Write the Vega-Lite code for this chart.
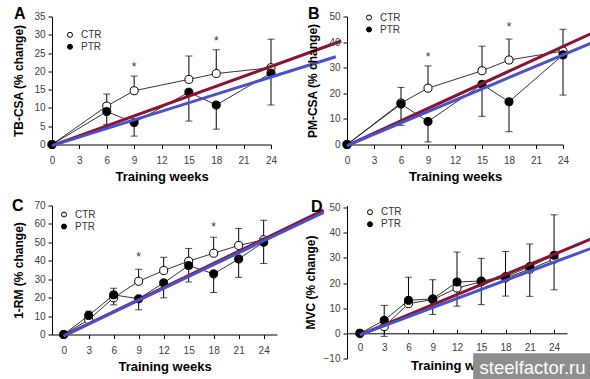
{
  "$schema": "https://vega.github.io/schema/vega-lite/v6.json",
  "padding": {"left": 11, "top": 5.5, "right": 0, "bottom": 0},
  "background": "white",
  "datasets": {
    "A": [
      {"kind": "pt", "group": "CTR", "week": 0, "y": 0},
      {"kind": "pt", "group": "CTR", "week": 6, "y": 10.5},
      {"kind": "pt", "group": "CTR", "week": 9, "y": 14.7},
      {"kind": "pt", "group": "CTR", "week": 15, "y": 17.8},
      {"kind": "pt", "group": "CTR", "week": 18, "y": 19.4},
      {"kind": "pt", "group": "CTR", "week": 24, "y": 21.0},
      {"kind": "pt", "group": "PTR", "week": 0, "y": 0},
      {"kind": "pt", "group": "PTR", "week": 6, "y": 9.0},
      {"kind": "pt", "group": "PTR", "week": 9, "y": 6.0},
      {"kind": "pt", "group": "PTR", "week": 15, "y": 14.3},
      {"kind": "pt", "group": "PTR", "week": 18, "y": 10.8},
      {"kind": "pt", "group": "PTR", "week": 24, "y": 19.5},
      {"kind": "eb", "group": "CTR", "week": 6, "y": 10.5, "y2": 13.8},
      {"kind": "eb", "group": "CTR", "week": 9, "y": 14.7, "y2": 18.7},
      {"kind": "eb", "group": "CTR", "week": 15, "y": 17.8, "y2": 24.2},
      {"kind": "eb", "group": "CTR", "week": 18, "y": 19.4, "y2": 25.9},
      {"kind": "eb", "group": "CTR", "week": 24, "y": 21.0, "y2": 28.8},
      {"kind": "eb", "group": "PTR", "week": 6, "y": 5.5, "y2": 9.0},
      {"kind": "eb", "group": "PTR", "week": 9, "y": 2.3, "y2": 6.0},
      {"kind": "eb", "group": "PTR", "week": 15, "y": 6.4, "y2": 14.3},
      {"kind": "eb", "group": "PTR", "week": 18, "y": 4.2, "y2": 10.8},
      {"kind": "eb", "group": "PTR", "week": 24, "y": 10.8, "y2": 19.5},
      {"kind": "star", "week": 9, "y": 21.9},
      {"kind": "star", "week": 18, "y": 29.2},
      {"kind": "tr", "week": 0, "y": -0.3},
      {"kind": "tr", "week": 31.7, "y": 28.3},
      {"kind": "tb", "week": 0, "y": -0.3},
      {"kind": "tb", "week": 31.1, "y": 24.0}
    ],
    "B": [
      {"kind": "pt", "group": "CTR", "week": 0, "y": 0},
      {"kind": "pt", "group": "CTR", "week": 6, "y": 16.2},
      {"kind": "pt", "group": "CTR", "week": 9, "y": 22.0},
      {"kind": "pt", "group": "CTR", "week": 15, "y": 28.8},
      {"kind": "pt", "group": "CTR", "week": 18, "y": 33.0},
      {"kind": "pt", "group": "CTR", "week": 24, "y": 36.5},
      {"kind": "pt", "group": "PTR", "week": 0, "y": 0},
      {"kind": "pt", "group": "PTR", "week": 6, "y": 15.8},
      {"kind": "pt", "group": "PTR", "week": 9, "y": 9.0},
      {"kind": "pt", "group": "PTR", "week": 15, "y": 23.5},
      {"kind": "pt", "group": "PTR", "week": 18, "y": 16.7},
      {"kind": "pt", "group": "PTR", "week": 24, "y": 35.0},
      {"kind": "eb", "group": "CTR", "week": 6, "y": 16.2, "y2": 22.3},
      {"kind": "eb", "group": "CTR", "week": 9, "y": 22.0, "y2": 30.7},
      {"kind": "eb", "group": "CTR", "week": 15, "y": 28.8, "y2": 38.4},
      {"kind": "eb", "group": "CTR", "week": 18, "y": 33.0, "y2": 41.2},
      {"kind": "eb", "group": "CTR", "week": 24, "y": 36.5, "y2": 45.0},
      {"kind": "eb", "group": "PTR", "week": 6, "y": 7.5, "y2": 15.8},
      {"kind": "eb", "group": "PTR", "week": 9, "y": 1.0, "y2": 9.0},
      {"kind": "eb", "group": "PTR", "week": 15, "y": 11.0, "y2": 23.5},
      {"kind": "eb", "group": "PTR", "week": 18, "y": 5.0, "y2": 16.7},
      {"kind": "eb", "group": "PTR", "week": 24, "y": 19.3, "y2": 35.0},
      {"kind": "star", "week": 9, "y": 35.4},
      {"kind": "star", "week": 18, "y": 46.9},
      {"kind": "tr", "week": 0, "y": -0.4},
      {"kind": "tr", "week": 27.1, "y": 43.3},
      {"kind": "tb", "week": 0, "y": -0.4},
      {"kind": "tb", "week": 27.1, "y": 39.6}
    ],
    "C": [
      {"kind": "pt", "group": "CTR", "week": 0, "y": 0},
      {"kind": "pt", "group": "CTR", "week": 3, "y": 8.0},
      {"kind": "pt", "group": "CTR", "week": 6, "y": 19.9},
      {"kind": "pt", "group": "CTR", "week": 9, "y": 28.9},
      {"kind": "pt", "group": "CTR", "week": 12, "y": 34.7},
      {"kind": "pt", "group": "CTR", "week": 15, "y": 39.8},
      {"kind": "pt", "group": "CTR", "week": 18, "y": 44.1},
      {"kind": "pt", "group": "CTR", "week": 21, "y": 48.3},
      {"kind": "pt", "group": "CTR", "week": 24, "y": 51.4},
      {"kind": "pt", "group": "PTR", "week": 0, "y": 0},
      {"kind": "pt", "group": "PTR", "week": 3, "y": 10.3},
      {"kind": "pt", "group": "PTR", "week": 6, "y": 21.5},
      {"kind": "pt", "group": "PTR", "week": 9, "y": 19.4},
      {"kind": "pt", "group": "PTR", "week": 12, "y": 28.0},
      {"kind": "pt", "group": "PTR", "week": 15, "y": 37.4},
      {"kind": "pt", "group": "PTR", "week": 18, "y": 32.9},
      {"kind": "pt", "group": "PTR", "week": 21, "y": 41.0},
      {"kind": "pt", "group": "PTR", "week": 24, "y": 50.1},
      {"kind": "eb", "group": "CTR", "week": 6, "y": 16.1, "y2": 19.9},
      {"kind": "eb", "group": "CTR", "week": 9, "y": 28.9, "y2": 35.4},
      {"kind": "eb", "group": "CTR", "week": 12, "y": 34.7, "y2": 41.9},
      {"kind": "eb", "group": "CTR", "week": 15, "y": 39.8, "y2": 46.7},
      {"kind": "eb", "group": "CTR", "week": 18, "y": 44.1, "y2": 52.8},
      {"kind": "eb", "group": "CTR", "week": 21, "y": 48.3, "y2": 57.5},
      {"kind": "eb", "group": "CTR", "week": 24, "y": 51.4, "y2": 62.0},
      {"kind": "eb", "group": "PTR", "week": 3, "y": 10.3, "y2": 12.7},
      {"kind": "eb", "group": "PTR", "week": 6, "y": 21.5, "y2": 25.1},
      {"kind": "eb", "group": "PTR", "week": 9, "y": 13.4, "y2": 19.4},
      {"kind": "eb", "group": "PTR", "week": 12, "y": 19.9, "y2": 28.0},
      {"kind": "eb", "group": "PTR", "week": 15, "y": 28.5, "y2": 37.4},
      {"kind": "eb", "group": "PTR", "week": 18, "y": 22.8, "y2": 32.9},
      {"kind": "eb", "group": "PTR", "week": 21, "y": 31.0, "y2": 41.0},
      {"kind": "eb", "group": "PTR", "week": 24, "y": 38.5, "y2": 50.1},
      {"kind": "star", "week": 9, "y": 43.8},
      {"kind": "star", "week": 18, "y": 60.0},
      {"kind": "tr", "week": 0, "y": -0.8},
      {"kind": "tr", "week": 31.2, "y": 67.5},
      {"kind": "tb", "week": 0, "y": -0.8},
      {"kind": "tb", "week": 31.2, "y": 66.3}
    ],
    "D": [
      {"kind": "pt", "group": "CTR", "week": 0, "y": 0},
      {"kind": "pt", "group": "CTR", "week": 3, "y": 2.7},
      {"kind": "pt", "group": "CTR", "week": 6, "y": 11.8},
      {"kind": "pt", "group": "CTR", "week": 9, "y": 13.4},
      {"kind": "pt", "group": "CTR", "week": 12, "y": 18.0},
      {"kind": "pt", "group": "CTR", "week": 15, "y": 20.5},
      {"kind": "pt", "group": "CTR", "week": 18, "y": 22.0},
      {"kind": "pt", "group": "CTR", "week": 21, "y": 25.5},
      {"kind": "pt", "group": "CTR", "week": 24, "y": 29.5},
      {"kind": "pt", "group": "PTR", "week": 0, "y": 0},
      {"kind": "pt", "group": "PTR", "week": 3, "y": 5.2},
      {"kind": "pt", "group": "PTR", "week": 6, "y": 13.1},
      {"kind": "pt", "group": "PTR", "week": 9, "y": 13.7},
      {"kind": "pt", "group": "PTR", "week": 12, "y": 20.4},
      {"kind": "pt", "group": "PTR", "week": 15, "y": 20.8},
      {"kind": "pt", "group": "PTR", "week": 18, "y": 22.5},
      {"kind": "pt", "group": "PTR", "week": 21, "y": 26.5},
      {"kind": "pt", "group": "PTR", "week": 24, "y": 31.0},
      {"kind": "eb", "group": "CTR", "week": 3, "y": -1.2, "y2": 2.7},
      {"kind": "eb", "group": "CTR", "week": 9, "y": 7.5, "y2": 13.4},
      {"kind": "eb", "group": "CTR", "week": 12, "y": 10.8, "y2": 18.0},
      {"kind": "eb", "group": "CTR", "week": 15, "y": 11.4, "y2": 20.5},
      {"kind": "eb", "group": "CTR", "week": 18, "y": 14.8, "y2": 22.0},
      {"kind": "eb", "group": "CTR", "week": 21, "y": 14.7, "y2": 25.5},
      {"kind": "eb", "group": "CTR", "week": 24, "y": 17.3, "y2": 29.5},
      {"kind": "eb", "group": "PTR", "week": 3, "y": 5.2, "y2": 11.1},
      {"kind": "eb", "group": "PTR", "week": 6, "y": 13.1, "y2": 22.3},
      {"kind": "eb", "group": "PTR", "week": 9, "y": 13.7, "y2": 21.3},
      {"kind": "eb", "group": "PTR", "week": 12, "y": 20.4, "y2": 32.3},
      {"kind": "eb", "group": "PTR", "week": 15, "y": 20.8, "y2": 29.8},
      {"kind": "eb", "group": "PTR", "week": 18, "y": 22.5, "y2": 32.5},
      {"kind": "eb", "group": "PTR", "week": 21, "y": 26.5, "y2": 35.5},
      {"kind": "eb", "group": "PTR", "week": 24, "y": 31.0, "y2": 47.1},
      {"kind": "tr", "week": 0, "y": -0.6},
      {"kind": "tr", "week": 28.6, "y": 37.5},
      {"kind": "tb", "week": 0, "y": -0.6},
      {"kind": "tb", "week": 28.6, "y": 33.8}
    ]
  },
  "concat": [
    {
      "width": 219, "height": 128,
      "data": {"name": "A"},
      "layer": [
        {
          "encoding": {
            "x": {"field": "week", "type": "quantitative", "scale": {"domain": [0, 24], "nice": false, "zero": false}, "axis": {"values": [0, 3, 6, 9, 12, 15, 18, 21, 24], "title": "Training weeks"}},
            "y": {"field": "y", "type": "quantitative", "scale": {"domain": [0, 35], "nice": false, "zero": false}, "axis": {"values": [0, 5, 10, 15, 20, 25, 30, 35], "title": "TB-CSA (% change)", "titlePadding": 8}}
          },
          "layer": [
            {"transform": [{"filter": "datum.kind === 'eb'"}], "mark": {"type": "errorbar", "ticks": true, "size": 7, "thickness": 1, "color": "black"}, "encoding": {"y2": {"field": "y2"}}},
            {"transform": [{"filter": "datum.kind === 'pt'"}], "mark": {"type": "line", "color": "black", "strokeWidth": 0.8}, "encoding": {"detail": {"field": "group"}}},
            {"transform": [{"filter": "datum.kind === 'pt'"}], "mark": {"type": "point", "shape": "circle", "filled": true, "stroke": "black", "strokeWidth": 1, "size": 65, "opacity": 1},
             "encoding": {"fill": {"field": "group", "type": "nominal", "scale": {"domain": ["CTR", "PTR"], "range": ["white", "black"]}, "legend": {"orient": "none", "legendX": 13, "legendY": 13.3, "title": null}}}},
            {"transform": [{"filter": "datum.kind === 'star'"}], "mark": {"type": "text", "text": "*", "fontSize": 12, "baseline": "middle", "dy": 3, "color": "#333333"}},
            {"transform": [{"filter": "datum.kind === 'tr'"}], "mark": {"type": "line", "color": "#8a1232", "strokeWidth": 3, "clip": false}},
            {"transform": [{"filter": "datum.kind === 'tb'"}], "mark": {"type": "line", "color": "#4a50c8", "strokeWidth": 3, "clip": false}}
          ]
        },
        {"transform": [{"aggregate": [{"op": "count", "as": "n"}]}], "mark": {"type": "text", "text": "A", "fontSize": 16, "fontWeight": "bold", "font": "Liberation Sans", "align": "left", "baseline": "alphabetic", "color": "black", "clip": false},
         "encoding": {
           "x": {"datum": -4.16, "type": "quantitative", "axis": {"values": [0, 3, 6, 9, 12, 15, 18, 21, 24], "title": "Training weeks"}},
           "y": {"datum": 34.2, "type": "quantitative", "axis": {"values": [0, 5, 10, 15, 20, 25, 30, 35], "title": "TB-CSA (% change)", "titlePadding": 8}}}}
      ]
    },
    {
      "width": 216, "height": 128,
      "data": {"name": "B"},
      "layer": [
        {
          "encoding": {
            "x": {"field": "week", "type": "quantitative", "scale": {"domain": [0, 24], "nice": false, "zero": false}, "axis": {"values": [0, 3, 6, 9, 12, 15, 18, 21, 24], "title": "Training weeks"}},
            "y": {"field": "y", "type": "quantitative", "scale": {"domain": [0, 50], "nice": false, "zero": false}, "axis": {"values": [0, 10, 20, 30, 40, 50], "title": "PM-CSA (% change)", "titlePadding": 9}}
          },
          "layer": [
            {"transform": [{"filter": "datum.kind === 'eb'"}], "mark": {"type": "errorbar", "ticks": true, "size": 7, "thickness": 1, "color": "black"}, "encoding": {"y2": {"field": "y2"}}},
            {"transform": [{"filter": "datum.kind === 'pt'"}], "mark": {"type": "line", "color": "black", "strokeWidth": 0.8}, "encoding": {"detail": {"field": "group"}}},
            {"transform": [{"filter": "datum.kind === 'pt'"}], "mark": {"type": "point", "shape": "circle", "filled": true, "stroke": "black", "strokeWidth": 1, "size": 65, "opacity": 1},
             "encoding": {"fill": {"field": "group", "type": "nominal", "scale": {"domain": ["CTR", "PTR"], "range": ["white", "black"]}, "legend": {"orient": "none", "legendX": 17, "legendY": -4, "title": null}}}},
            {"transform": [{"filter": "datum.kind === 'star'"}], "mark": {"type": "text", "text": "*", "fontSize": 12, "baseline": "middle", "dy": 3, "color": "#333333"}},
            {"transform": [{"filter": "datum.kind === 'tr'"}], "mark": {"type": "line", "color": "#8a1232", "strokeWidth": 3, "clip": false}},
            {"transform": [{"filter": "datum.kind === 'tb'"}], "mark": {"type": "line", "color": "#4a50c8", "strokeWidth": 3, "clip": false}}
          ]
        },
        {"transform": [{"aggregate": [{"op": "count", "as": "n"}]}], "mark": {"type": "text", "text": "B", "fontSize": 16, "fontWeight": "bold", "font": "Liberation Sans", "align": "left", "baseline": "alphabetic", "color": "black", "clip": false},
         "encoding": {
           "x": {"datum": -4.33, "type": "quantitative", "axis": {"values": [0, 3, 6, 9, 12, 15, 18, 21, 24], "title": "Training weeks"}},
           "y": {"datum": 49.0, "type": "quantitative", "axis": {"values": [0, 10, 20, 30, 40, 50], "title": "PM-CSA (% change)", "titlePadding": 9}}}}
      ]
    },
    {
      "width": 225, "height": 129,
      "data": {"name": "C"},
      "layer": [
        {
          "encoding": {
            "x": {"field": "week", "type": "quantitative", "scale": {"domain": [-1.4, 25.6], "nice": false, "zero": false}, "axis": {"values": [0, 3, 6, 9, 12, 15, 18, 21, 24], "title": "Training weeks"}},
            "y": {"field": "y", "type": "quantitative", "scale": {"domain": [0, 70], "nice": false, "zero": false}, "axis": {"values": [0, 10, 20, 30, 40, 50, 60, 70], "title": "1-RM (% change)", "titlePadding": 8}}
          },
          "layer": [
            {"transform": [{"filter": "datum.kind === 'eb'"}], "mark": {"type": "errorbar", "ticks": true, "size": 7, "thickness": 1, "color": "black"}, "encoding": {"y2": {"field": "y2"}}},
            {"transform": [{"filter": "datum.kind === 'pt'"}], "mark": {"type": "line", "color": "black", "strokeWidth": 0.8}, "encoding": {"detail": {"field": "group"}}},
            {"transform": [{"filter": "datum.kind === 'pt'"}], "mark": {"type": "point", "shape": "circle", "filled": true, "stroke": "black", "strokeWidth": 1, "size": 65, "opacity": 1},
             "encoding": {"fill": {"field": "group", "type": "nominal", "scale": {"domain": ["CTR", "PTR"], "range": ["white", "black"]}, "legend": {"orient": "none", "legendX": 7, "legendY": 4, "title": null}}}},
            {"transform": [{"filter": "datum.kind === 'star'"}], "mark": {"type": "text", "text": "*", "fontSize": 12, "baseline": "middle", "dy": 3, "color": "#333333"}},
            {"transform": [{"filter": "datum.kind === 'tr'"}], "mark": {"type": "line", "color": "#8a1232", "strokeWidth": 3, "clip": false}},
            {"transform": [{"filter": "datum.kind === 'tb'"}], "mark": {"type": "line", "color": "#4a50c8", "strokeWidth": 3, "clip": false}}
          ]
        },
        {"transform": [{"aggregate": [{"op": "count", "as": "n"}]}], "mark": {"type": "text", "text": "C", "fontSize": 16, "fontWeight": "bold", "font": "Liberation Sans", "align": "left", "baseline": "alphabetic", "color": "black", "clip": false},
         "encoding": {
           "x": {"datum": -6.2, "type": "quantitative", "axis": {"values": [0, 3, 6, 9, 12, 15, 18, 21, 24], "title": "Training weeks"}},
           "y": {"datum": 67.0, "type": "quantitative", "axis": {"values": [0, 10, 20, 30, 40, 50, 60, 70], "title": "1-RM (% change)", "titlePadding": 8}}}}
      ]
    },
    {
      "width": 220, "height": 153,
      "data": {"name": "D"},
      "layer": [
        {
          "encoding": {
            "x": {"field": "week", "type": "quantitative", "scale": {"domain": [-1.6, 25.6], "nice": false, "zero": false}, "axis": {"values": [0, 3, 6, 9, 12, 15, 18, 21, 24], "title": "Training weeks", "offset": -25.2, "tickSize": -4, "labelPadding": 12.7, "titlePadding": 7}},
            "y": {"field": "y", "type": "quantitative", "scale": {"domain": [-10, 50.8], "nice": false, "zero": false}, "axis": {"values": [-10, 0, 10, 20, 30, 40, 50], "title": "MVC (% change)", "titlePadding": 5.6}}
          },
          "layer": [
            {"transform": [{"filter": "datum.kind === 'eb'"}], "mark": {"type": "errorbar", "ticks": true, "size": 7, "thickness": 1, "color": "black"}, "encoding": {"y2": {"field": "y2"}}},
            {"transform": [{"filter": "datum.kind === 'pt'"}], "mark": {"type": "line", "color": "black", "strokeWidth": 0.8}, "encoding": {"detail": {"field": "group"}}},
            {"transform": [{"filter": "datum.kind === 'pt'"}], "mark": {"type": "point", "shape": "circle", "filled": true, "stroke": "black", "strokeWidth": 1, "size": 65, "opacity": 1},
             "encoding": {"fill": {"field": "group", "type": "nominal", "scale": {"domain": ["CTR", "PTR"], "range": ["white", "black"]}, "legend": {"orient": "none", "legendX": 18, "legendY": 1.7, "title": null}}}},
            {"transform": [{"filter": "datum.kind === 'tr'"}], "mark": {"type": "line", "color": "#8a1232", "strokeWidth": 3, "clip": false}},
            {"transform": [{"filter": "datum.kind === 'tb'"}], "mark": {"type": "line", "color": "#4a50c8", "strokeWidth": 3, "clip": false}}
          ]
        },
        {"transform": [{"aggregate": [{"op": "count", "as": "n"}]}], "mark": {"type": "text", "text": "D", "fontSize": 16, "fontWeight": "bold", "font": "Liberation Sans", "align": "left", "baseline": "alphabetic", "color": "black", "clip": false},
         "encoding": {
           "x": {"datum": -6.05, "type": "quantitative", "axis": {"values": [0, 3, 6, 9, 12, 15, 18, 21, 24], "title": "Training weeks", "offset": -25.2, "tickSize": -4, "labelPadding": 12.7, "titlePadding": 7}},
           "y": {"datum": 48.2, "type": "quantitative", "axis": {"values": [-10, 0, 10, 20, 30, 40, 50], "title": "MVC (% change)", "titlePadding": 5.6}}}},
        {"transform": [{"aggregate": [{"op": "count", "as": "n"}]}], "mark": {"type": "rect", "color": "#8e8e8e", "clip": false},
         "encoding": {
           "x": {"datum": 14.0, "type": "quantitative", "axis": {"values": [0, 3, 6, 9, 12, 15, 18, 21, 24], "title": "Training weeks", "offset": -25.2, "tickSize": -4, "labelPadding": 12.7, "titlePadding": 7}},
           "x2": {"datum": 30},
           "y": {"datum": -7.9, "type": "quantitative", "axis": {"values": [-10, 0, 10, 20, 30, 40, 50], "title": "MVC (% change)", "titlePadding": 5.6}},
           "y2": {"datum": -19.5}}},
        {"transform": [{"aggregate": [{"op": "count", "as": "n"}]}], "mark": {"type": "text", "text": "steelfactor.ru", "fontSize": 18.5, "font": "Liberation Sans", "align": "center", "baseline": "alphabetic", "color": "white", "clip": false},
         "encoding": {
           "x": {"datum": 21.34, "type": "quantitative", "axis": {"values": [0, 3, 6, 9, 12, 15, 18, 21, 24], "title": "Training weeks", "offset": -25.2, "tickSize": -4, "labelPadding": 12.7, "titlePadding": 7}},
           "y": {"datum": -16.0, "type": "quantitative", "axis": {"values": [-10, 0, 10, 20, 30, 40, 50], "title": "MVC (% change)", "titlePadding": 5.6}}}}
      ]
    }
  ],
  "columns": 2,
  "spacing": {"row": 61, "column": 70},
  "bounds": "flush",
  "align": "each",
  "resolve": {"scale": {"x": "independent", "y": "independent", "fill": "independent"}, "legend": {"fill": "independent"}},
  "config": {
    "view": {"stroke": null},
    "font": "Liberation Sans Narrow, Liberation Sans, Arial, sans-serif",
    "axis": {"grid": false, "domainColor": "black", "domainWidth": 1, "tickColor": "black", "tickWidth": 1, "tickSize": 4,
             "labelFont": "Liberation Sans Narrow, Liberation Sans, Arial, sans-serif", "labelFontSize": 10, "labelColor": "#404040",
             "labelFlush": false, "labelOverlap": false,
             "titleFont": "Liberation Sans Narrow, Liberation Sans, Arial, sans-serif", "titleFontWeight": "bold", "titleColor": "black"},
    "axisX": {"titleFontSize": 13, "labelPadding": 6.5, "titlePadding": 5},
    "axisY": {"titleFontSize": 12, "labelPadding": 3},
    "legend": {"labelFont": "Liberation Sans Narrow, Liberation Sans, Arial, sans-serif", "labelFontSize": 10, "labelColor": "#333333",
               "symbolType": "circle", "symbolSize": 25, "symbolStrokeColor": "black", "symbolStrokeWidth": 1, "symbolOpacity": 1,
               "rowPadding": 2, "labelOffset": 6, "padding": 0}
  }
}
